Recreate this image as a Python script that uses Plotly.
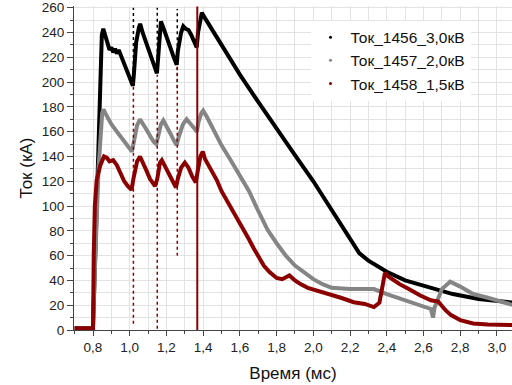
import plotly.graph_objects as go

# ---- data ----
black_name = "Ток_1456_3,0кВ"
gray_name = "Ток_1457_2,0кВ"
red_name = "Ток_1458_1,5кВ"

black_x = [0.70, 0.80, 0.806, 0.83, 0.848, 0.856, 0.868, 0.88, 0.89, 0.90, 0.91, 0.92, 0.93, 0.94, 0.95,
           0.96, 0.975, 0.99, 1.005, 1.017, 1.022, 1.035, 1.05, 1.057, 1.07, 1.09, 1.11, 1.13, 1.148,
           1.155, 1.163, 1.170, 1.185, 1.20, 1.22, 1.24, 1.256, 1.262, 1.28, 1.292, 1.305, 1.32, 1.335,
           1.35, 1.365, 1.372, 1.385, 1.393, 1.40, 1.50, 1.60, 1.70, 1.80, 1.90, 2.00, 2.10, 2.20, 2.25,
           2.30, 2.363, 2.40, 2.50, 2.60, 2.65, 2.76, 2.90, 3.00, 3.09]
black_y = [1.5, 1.5, 30, 150, 238, 243, 236, 230, 226, 228, 224, 227, 223, 226, 222,
           220, 212, 206, 201, 197, 205, 232, 244, 247, 240, 231, 222, 213, 207,
           220, 243, 249, 243, 236, 228, 220, 214, 225, 240, 245, 243, 242, 238,
           232, 228, 240, 253, 256, 254, 230, 206, 184, 162, 141, 120, 97, 74, 62,
           56, 50, 47, 40, 36, 34, 29, 25, 23, 22]

gray_x = [0.70, 0.80, 0.806, 0.83, 0.85, 0.857, 0.87, 0.90, 0.93, 0.96, 0.99, 1.012, 1.02, 1.04, 1.056,
          1.07, 1.09, 1.11, 1.13, 1.145, 1.155, 1.17, 1.183, 1.20, 1.22, 1.24, 1.256, 1.265, 1.29, 1.31,
          1.33, 1.35, 1.366, 1.375, 1.39, 1.40, 1.42, 1.46, 1.50, 1.55, 1.60, 1.65, 1.70, 1.75, 1.80,
          1.85, 1.90, 1.95, 2.00, 2.05, 2.10, 2.20, 2.33, 2.40, 2.50, 2.60, 2.64, 2.652, 2.66, 2.70,
          2.745, 2.80, 2.87, 2.95, 3.00, 3.09]
gray_y = [1.5, 1.5, 30, 130, 175, 178, 174, 166, 160, 154, 148, 144, 150, 165, 170,
          167, 162, 157, 152, 150, 158, 166, 169, 165, 159, 153, 149, 155, 166, 170,
          167, 163, 160, 168, 175, 177, 172, 160, 149, 137, 125, 112, 96, 81, 70,
          60, 52, 46, 41, 37, 34, 33, 33, 29, 24, 19, 17, 10, 18, 33,
          39, 35, 29, 26, 24, 20]

red_x = [0.70, 0.80, 0.804, 0.81, 0.82, 0.84, 0.86, 0.875, 0.89, 0.91, 0.93, 0.95, 0.97, 0.99, 1.01,
         1.02, 1.04, 1.056, 1.07, 1.09, 1.11, 1.138, 1.15, 1.165, 1.175, 1.19, 1.21, 1.23, 1.252,
         1.262, 1.28, 1.30, 1.32, 1.34, 1.36, 1.37, 1.385, 1.398, 1.41, 1.44, 1.474, 1.50, 1.546,
         1.58, 1.62, 1.65, 1.675, 1.70, 1.73, 1.76, 1.80, 1.83, 1.87, 1.90, 1.93, 1.97, 2.02, 2.06,
         2.11, 2.15, 2.22, 2.28, 2.33, 2.36, 2.38, 2.39, 2.41, 2.44, 2.47, 2.52, 2.58, 2.64, 2.68,
         2.72, 2.75, 2.80, 2.87, 2.95, 3.09]
red_y = [1.5, 1.5, 60, 100, 121, 133, 140, 139, 136, 137, 133, 127, 120, 116, 113,
         122, 136, 140, 136, 129, 122, 116, 122, 135, 137, 133, 127, 121, 115,
         122, 131, 135, 131, 124, 119, 128, 140, 144, 138, 130, 121, 112, 100,
         92, 82, 73, 66, 59, 52, 47, 42, 41, 44, 40, 37, 34, 32, 30,
         27.7, 26, 22.4, 21, 18.5, 22, 38, 46, 43, 40, 37, 33, 28, 24, 23,
         16, 12, 8, 5.3, 4.5, 4]

# spikes (sparse dotted vertical excursions)
spike_x = [1.020, 1.150, 1.259]
black_spike_lo = [205, 210, 195]
black_spike_hi = [260, 260, 259]
red_spike_lo = [5, 1, 60]
red_spike_hi = [200, 206, 214]
red_solid_spike_x = [1.368]
red_solid_spike_lo = [0]
red_solid_spike_hi = [261]

BLACK = "#000000"
GRAY = "#858585"
RED = "#8b0000"


def segments(xs, lo, hi):
    sx, sy = [], []
    for x, a, b in zip(xs, lo, hi):
        sx += [x, x, None]
        sy += [a, b, None]
    return sx, sy


fig = go.Figure()

bx, by = segments(spike_x, black_spike_lo, black_spike_hi)
rx, ry = segments(spike_x, red_spike_lo, red_spike_hi)
rsx, rsy = segments(red_solid_spike_x, red_solid_spike_lo, red_solid_spike_hi)

fig.add_trace(go.Scatter(x=black_x, y=black_y, mode="lines", line=dict(color=BLACK, width=4),
                         showlegend=False, hoverinfo="skip"))
fig.add_trace(go.Scatter(x=gray_x, y=gray_y, mode="lines", line=dict(color=GRAY, width=4),
                         showlegend=False, hoverinfo="skip"))
fig.add_trace(go.Scatter(x=red_x, y=red_y, mode="lines", line=dict(color=RED, width=4),
                         showlegend=False, hoverinfo="skip"))
fig.add_trace(go.Scatter(x=bx, y=by, mode="lines", line=dict(color=BLACK, width=1.5, dash="dot"),
                         showlegend=False, hoverinfo="skip"))
fig.add_trace(go.Scatter(x=rx, y=ry, mode="lines", line=dict(color=RED, width=1.5, dash="dot"),
                         showlegend=False, hoverinfo="skip"))
fig.add_trace(go.Scatter(x=rsx, y=rsy, mode="lines", line=dict(color=RED, width=2),
                         showlegend=False, hoverinfo="skip"))

# legend entries (dot markers)
for name, col in [(black_name, BLACK), (gray_name, GRAY), (red_name, RED)]:
    fig.add_trace(go.Scatter(x=[None], y=[None], mode="markers", name=name,
                             marker=dict(color=col, size=3)))

FONT = "Liberation Sans, Arial, sans-serif"
GRID = "#e3e3e3"

fig.update_layout(
    width=512, height=385,
    margin=dict(l=74, r=0, t=0, b=55),
    paper_bgcolor="white", plot_bgcolor="white",
    separators=", ",
    font=dict(family=FONT, color="#222222", size=13.5),
    legend=dict(x=0.54, y=0.955, xanchor="left", yanchor="top",
                bgcolor="white", font=dict(size=15.5, color="#111111"),
                itemwidth=30, tracegroupgap=0),
    xaxis=dict(
        range=[0.6965, 3.082], dtick=0.2, tick0=0, tickformat=".1f",
        showline=True, linecolor="#444444", linewidth=1,
        ticks="outside", ticklen=5, tickcolor="#444444",
        showgrid=True, gridcolor=GRID, gridwidth=1, zeroline=False,
        minor=dict(dtick=0.1, showgrid=True, gridcolor=GRID, ticks="outside", ticklen=3, tickcolor="#444444"),
        title=dict(text="Время (мс)", font=dict(size=17, color="#111111"), standoff=12),
        tickfont=dict(size=13.5),
    ),
    yaxis=dict(
        range=[0, 261.4], dtick=20, tick0=0,
        showline=True, linecolor="#444444", linewidth=1,
        ticks="outside", ticklen=6, tickcolor="#444444",
        showgrid=True, gridcolor=GRID, gridwidth=1, zeroline=False,
        ticklabeloverflow="allow",
        minor=dict(dtick=10, showgrid=True, gridcolor=GRID, ticks="outside", ticklen=3, tickcolor="#444444"),
        title=dict(text="Ток (кА)", font=dict(size=17, color="#111111"), standoff=4),
        tickfont=dict(size=13.5),
    ),
)

fig.write_html("out.html")
